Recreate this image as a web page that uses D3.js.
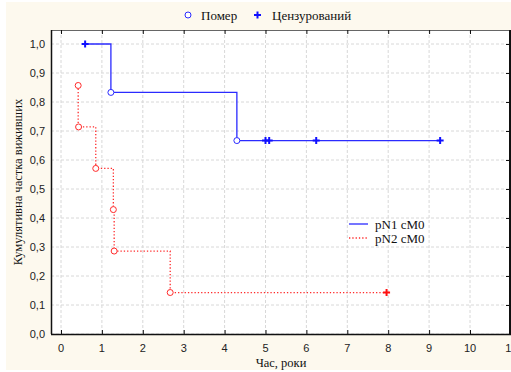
<!DOCTYPE html>
<html>
<head>
<meta charset="utf-8">
<script src="https://cdn.jsdelivr.net/npm/d3@7"></script>
<style>
  body { margin: 0; background: #fff; }
  svg { display: block; }
  .tick-label { font-family: "Liberation Sans", Arial, sans-serif; font-size: 11px; fill: #222; }
  .serif { font-family: "Liberation Serif", "Times New Roman", serif; fill: #111; }
</style>
</head>
<body>
<div id="chart"></div>
<script>
// Kaplan-Meier data
const xTicks = [0, 1, 2, 3, 4, 5, 6, 7, 8, 9, 10, 11];
const yTicks = [0, 0.1, 0.2, 0.3, 0.4, 0.5, 0.6, 0.7, 0.8, 0.9, 1.0];

// pN1 cM0
const g1Steps = [[0.59, 1.0], [1.22, 1.0], [1.22, 0.833], [4.3, 0.833], [4.3, 0.667], [9.27, 0.667]];
const g1Events = [[1.22, 0.833], [4.3, 0.667]];
const g1Censored = [[0.59, 1.0], [5.0, 0.667], [5.09, 0.667], [6.24, 0.667], [9.27, 0.667]];

// pN2 cM0
const g2Steps = [[0.42, 0.857], [0.42, 0.714], [0.85, 0.714], [0.85, 0.571], [1.28, 0.571], [1.28, 0.429], [1.3, 0.429], [1.3, 0.286], [2.67, 0.286], [2.67, 0.143], [7.96, 0.143]];
const g2Events = [[0.42, 0.857], [0.43, 0.714], [0.85, 0.571], [1.28, 0.429], [1.3, 0.286], [2.67, 0.143]];
const g2Censored = [[7.96, 0.143]];

const seriesNames = ["pN1 cM0", "pN2 cM0"];
const markerNames = ["Помер", "Цензурований"];

const W = 511, H = 372;
const pLeft = 51, pRight = 510, pTop = 30, pBottom = 334;

const svg = d3.select("#chart").append("svg")
    .attr("width", W).attr("height", H);

svg.append("rect").attr("x", 6).attr("y", 2).attr("width", W - 6).attr("height", 368)
    .attr("fill", "#fdf9ee");

const x = d3.scaleLinear().domain([0, 10]).range([61, 470]);
const y = d3.scaleLinear().domain([0, 1]).range([334, 44]);

const defs = svg.append("defs");
defs.append("clipPath").attr("id", "clip")
    .append("rect").attr("x", pLeft).attr("y", pTop).attr("width", pRight - pLeft).attr("height", pBottom - pTop);

svg.append("rect").attr("x", pLeft).attr("y", pTop).attr("width", pRight - pLeft).attr("height", pBottom - pTop)
    .attr("fill", "#fff");

// grid
const grid = svg.append("g").attr("clip-path", "url(#clip)");
grid.selectAll("line.gx").data(xTicks).join("line")
    .attr("x1", d => x(d)).attr("x2", d => x(d)).attr("y1", pTop).attr("y2", pBottom)
    .attr("stroke", "#d8d8d8").attr("stroke-dasharray", "3,2").attr("stroke-width", 1);
grid.selectAll("line.gy").data(yTicks).join("line")
    .attr("y1", d => y(d)).attr("y2", d => y(d)).attr("x1", pLeft).attr("x2", pRight)
    .attr("stroke", "#d8d8d8").attr("stroke-dasharray", "3,2").attr("stroke-width", 1);

// frame
svg.append("line").attr("x1", pLeft).attr("x2", pRight).attr("y1", pTop + 0.5).attr("y2", pTop + 0.5).attr("stroke", "#666");
svg.append("line").attr("x1", pLeft).attr("x2", pRight + 1).attr("y1", pBottom + 0.5).attr("y2", pBottom + 0.5).attr("stroke", "#111").attr("stroke-width", 1.5);
svg.append("line").attr("x1", pLeft + 0.5).attr("x2", pLeft + 0.5).attr("y1", pTop).attr("y2", pBottom).attr("stroke", "#111").attr("stroke-width", 1.5);
svg.append("line").attr("x1", pRight).attr("x2", pRight).attr("y1", pTop).attr("y2", pBottom).attr("stroke", "#111").attr("stroke-width", 2);

// axes: inside ticks on all sides
const xBottom = d3.axisBottom(x).tickValues(xTicks).tickSize(-4).tickFormat("");
svg.append("g").attr("transform", `translate(0,${pBottom})`).call(xBottom)
    .call(g => g.select(".domain").remove())
    .call(g => g.selectAll("line").attr("stroke", "#111"));
const xTop = d3.axisTop(x).tickValues(xTicks).tickSize(-4).tickFormat("");
svg.append("g").attr("transform", `translate(0,${pTop})`).call(xTop)
    .call(g => g.select(".domain").remove())
    .call(g => g.selectAll("line").attr("stroke", "#111"));
const yRight = d3.axisRight(y).tickValues(yTicks).tickSize(-4).tickFormat("");
svg.append("g").attr("transform", `translate(${pRight},0)`).call(yRight)
    .call(g => g.select(".domain").remove())
    .call(g => g.selectAll("line").attr("stroke", "#111"));

const fmt = d => d3.format(".1f")(d).replace(".", ",");
svg.append("g").selectAll("text").data(yTicks).join("text")
    .attr("class", "tick-label")
    .attr("x", 45).attr("y", d => y(d) + 4)
    .attr("text-anchor", "end").text(fmt);
svg.append("g").selectAll("text").data(xTicks).join("text")
    .attr("class", "tick-label")
    .attr("x", d => x(d)).attr("y", 352)
    .attr("text-anchor", "middle").text(d => d);

svg.append("text").attr("class", "serif").attr("font-size", 12.5)
    .attr("x", 281).attr("y", 367).attr("text-anchor", "middle").text("Час, роки");
svg.append("text").attr("class", "serif").attr("font-size", 12.5)
    .attr("transform", "translate(22,182) rotate(-90)").attr("text-anchor", "middle")
    .text("Кумулятивна частка виживших");

// series
const line = d3.line().x(d => x(d[0])).y(d => y(d[1]));
const plot = svg.append("g").attr("clip-path", "url(#clip)");

function plus(g, pts, color) {
    g.selectAll(null).data(pts).join("path")
        .attr("d", d => `M${x(d[0]) - 3.5},${y(d[1])}H${x(d[0]) + 3.5}M${x(d[0])},${y(d[1]) - 3.5}V${y(d[1]) + 3.5}`)
        .attr("stroke", color).attr("stroke-width", 2).attr("fill", "none");
}
function circles(g, pts, color) {
    g.selectAll(null).data(pts).join("circle")
        .attr("cx", d => x(d[0])).attr("cy", d => y(d[1])).attr("r", 3)
        .attr("fill", "#fff").attr("stroke", color).attr("stroke-width", 1);
}

const blue = "#2b2bff", red = "#ff2b2b";
plot.append("path").datum(g1Steps).attr("d", line).attr("fill", "none").attr("stroke", blue).attr("stroke-width", 1.3);
plot.append("path").datum(g2Steps).attr("d", line).attr("fill", "none").attr("stroke", red).attr("stroke-width", 1.3).attr("stroke-dasharray", "1.3,2");
const g1 = plot.append("g"), g2 = plot.append("g");
plus(g1, g1Censored, "#1010ff");
circles(g1, g1Events, blue);
plus(g2, g2Censored, "#ff1010");
circles(g2, g2Events, red);

// series legend
const leg = svg.append("g").attr("transform", "translate(349,224)");
const legColors = [blue, red];
seriesNames.forEach((name, i) => {
    leg.append("line").attr("x1", 0).attr("x2", 19).attr("y1", i * 14).attr("y2", i * 14)
        .attr("stroke", legColors[i]).attr("stroke-width", 1.3)
        .attr("stroke-dasharray", i === 1 ? "1.3,2" : null);
    leg.append("text").attr("class", "serif").attr("font-size", 13)
        .attr("x", 26).attr("y", i * 14 + 4.5).text(name);
});

// marker legend at top
svg.append("circle").attr("cx", 188).attr("cy", 15).attr("r", 3)
    .attr("fill", "#fff").attr("stroke", blue).attr("stroke-width", 1);
svg.append("text").attr("class", "serif").attr("font-size", 13)
    .attr("x", 201).attr("y", 20).text(markerNames[0]);
svg.append("path").attr("d", "M254,15H261M257.5,11.5V18.5").attr("stroke", "#1010ff").attr("stroke-width", 2);
svg.append("text").attr("class", "serif").attr("font-size", 13)
    .attr("x", 272).attr("y", 20).text(markerNames[1]);
</script>
</body>
</html>
